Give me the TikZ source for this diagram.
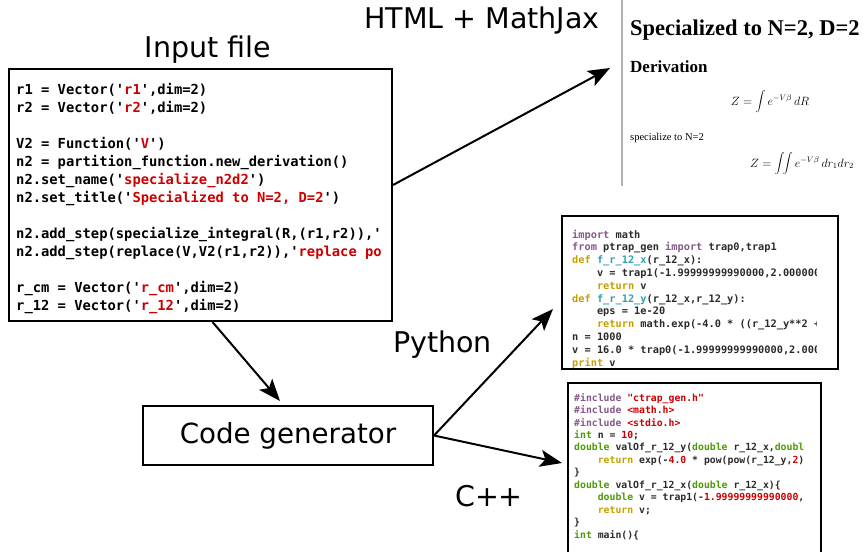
\documentclass[tikz,border=0pt]{standalone}
\usepackage{fontspec}
\setmainfont{DejaVu Sans}
\setmonofont{DejaVu Sans Mono}
\newfontfamily\htmlfont{Liberation Serif}
\usetikzlibrary{arrows.meta,positioning}

\definecolor{strred}{HTML}{CC0000}
\definecolor{kwpurple}{HTML}{85588A}
\definecolor{kwgold}{HTML}{C4A000}
\definecolor{fnteal}{HTML}{2E9FB0}
\definecolor{typgreen}{HTML}{4E9A06}
\definecolor{codegray}{HTML}{2A2A2A}

% syntax colouring helpers
\newcommand{\cstr}[1]{\textcolor{strred}{#1}}
\newcommand{\kwp}[1]{\textcolor{kwpurple}{#1}}
\newcommand{\kwg}[1]{\textcolor{kwgold}{#1}}
\newcommand{\pyfn}[1]{\textcolor{fnteal}{#1}}
\newcommand{\ctype}[1]{\textcolor{typgreen}{#1}}
\newcommand{\codeind}{\phantom{0000}}

\begin{document}
\begin{tikzpicture}[x=1pt, y=-1pt,
    box/.style={draw, line width=2pt, inner sep=0pt},
    lbl/.style={font=\fontsize{28.5}{32}\selectfont, inner sep=0pt},
    code/.style={anchor=north west, align=left, inner sep=0pt},
    flow/.style={line width=2pt, -{Stealth[length=22pt,width=17pt,inset=5pt]}}]

\useasboundingbox (0,0) rectangle (866,551);

% Labels
\node[lbl, anchor=base] (inlabel) at (208,58) {Input file};
\node[lbl, anchor=base] (htmllabel) at (482,29) {HTML + MathJax};
\node[lbl, anchor=base] (pylabel) at (442.5,352) {Python};
\node[lbl, anchor=base] (cpplabel) at (489,506) {C++};

% Input file
\node[box, minimum width=383pt, minimum height=252pt] (infile) at (200.5,195) {};
\begin{scope}
\clip (11,71) rectangle (390,319);
\node[code, font=\ttfamily\bfseries\fontsize{13.8}{18}\selectfont] (incode) at (16,83.5) {%
r1 = Vector('\cstr{r1}',dim=2)\\
r2 = Vector('\cstr{r2}',dim=2)\\[18pt]
V2 = Function('\cstr{V}')\\
n2 = partition\_function.new\_derivation()\\
n2.set\_name('\cstr{specialize\_n2d2}')\\
n2.set\_title('\cstr{Specialized to N=2, D=2}')\\[18pt]
n2.add\_step(specialize\_integral(R,(r1,r2)),'\\
n2.add\_step(replace(V,V2(r1,r2)),'\cstr{replace po}\\[18pt]
r\_cm = Vector('\cstr{r\_cm}',dim=2)\\
r\_12 = Vector('\cstr{r\_12}',dim=2)};
\end{scope}

% Code generator
\node[box, minimum width=290pt, minimum height=59pt, font=\fontsize{27.7}{32}\selectfont] (codegen) at (288,435.5) {Code generator};

% HTML output
\draw[gray!60, line width=2pt] (622,0) -- (622,186);
\begin{scope}
\clip (624,0) rectangle (866,190);
\node[anchor=base west, inner sep=0pt, font=\htmlfont\bfseries\fontsize{22.5}{26}\selectfont] (htmltitle) at (630,36) {Specialized to N=2, D=2};
\node[anchor=base west, inner sep=0pt, font=\htmlfont\bfseries\fontsize{17}{20}\selectfont] (htmlderiv) at (630,72) {Derivation};
\node[anchor=base, inner sep=0pt, font=\fontsize{12}{14}\selectfont] (htmleqa) at (770,105) {$\displaystyle Z=\int e^{-V\beta}\,dR$};
\node[anchor=base west, inner sep=0pt, font=\htmlfont\fontsize{10.5}{12}\selectfont] (htmlstep) at (630,140) {specialize to N=2};
\node[anchor=base, inner sep=0pt, font=\fontsize{12}{14}\selectfont] (htmleqb) at (802,167) {$\displaystyle Z=\int\!\!\int e^{-V\beta}\,dr_1dr_2$};
\end{scope}

% Python output
\node[box, minimum width=276pt, minimum height=153pt] (pyout) at (700,292.5) {};
\begin{scope}
\clip (563,217) rectangle (816,368);
\node[code, text=codegray, font=\ttfamily\bfseries\fontsize{10.3}{12.8}\selectfont] (pycode) at (572,229.5) {%
\kwp{import} math\\
\kwp{from} ptrap\_gen \kwp{import} trap0,trap1\\
\kwg{def} \pyfn{f\_r\_12\_x}(r\_12\_x):\\
\codeind v = trap1(-1.99999999990000,2.00000000000000\\
\codeind\kwg{return} v\\
\kwg{def} \pyfn{f\_r\_12\_y}(r\_12\_x,r\_12\_y):\\
\codeind eps = 1e-20\\
\codeind\kwg{return} math.exp(-4.0 * ((r\_12\_y**2 +\\
n = 1000\\
v = 16.0 * trap0(-1.99999999990000,2.00000\\
\kwg{print} v};
\end{scope}

% C++ output
\node[box, minimum width=253pt, minimum height=177pt] (cppout) at (694.5,471.5) {};
\begin{scope}
\clip (569,384) rectangle (804,551);
\node[code, text=codegray, font=\ttfamily\bfseries\fontsize{9.8}{12.45}\selectfont] (cppcode) at (574,393) {%
\kwp{\#include} \cstr{"ctrap\_gen.h"}\\
\kwp{\#include} \cstr{<math.h>}\\
\kwp{\#include} \cstr{<stdio.h>}\\
\ctype{int} n = \cstr{10};\\
\ctype{double} valOf\_r\_12\_y(\ctype{double} r\_12\_x,\ctype{double} r\_12\_y)\{\\
\codeind\kwg{return} exp(-\cstr{4.0} * pow(pow(r\_12\_y,\cstr{2}),\\
\}\\
\ctype{double} valOf\_r\_12\_x(\ctype{double} r\_12\_x)\{\\
\codeind\ctype{double} v = trap1(-\cstr{1.99999999990000},\\
\codeind\kwg{return} v;\\
\}\\
\ctype{int} main()\{};
\end{scope}

% Connections
\coordinate (htmltip) at (610,68);
\coordinate (pytip) at (553,309);
\coordinate (cpptip) at (562,463);
\draw[flow] ([yshift=10pt]infile.east) -- (htmltip);
\draw[flow] ([xshift=12pt]infile.south) -- ([xshift=-8pt,yshift=4pt]codegen.north);
\draw[flow] (codegen.east) -- (pytip);
\draw[flow] (codegen.east) -- (cpptip);

\end{tikzpicture}
\end{document}
